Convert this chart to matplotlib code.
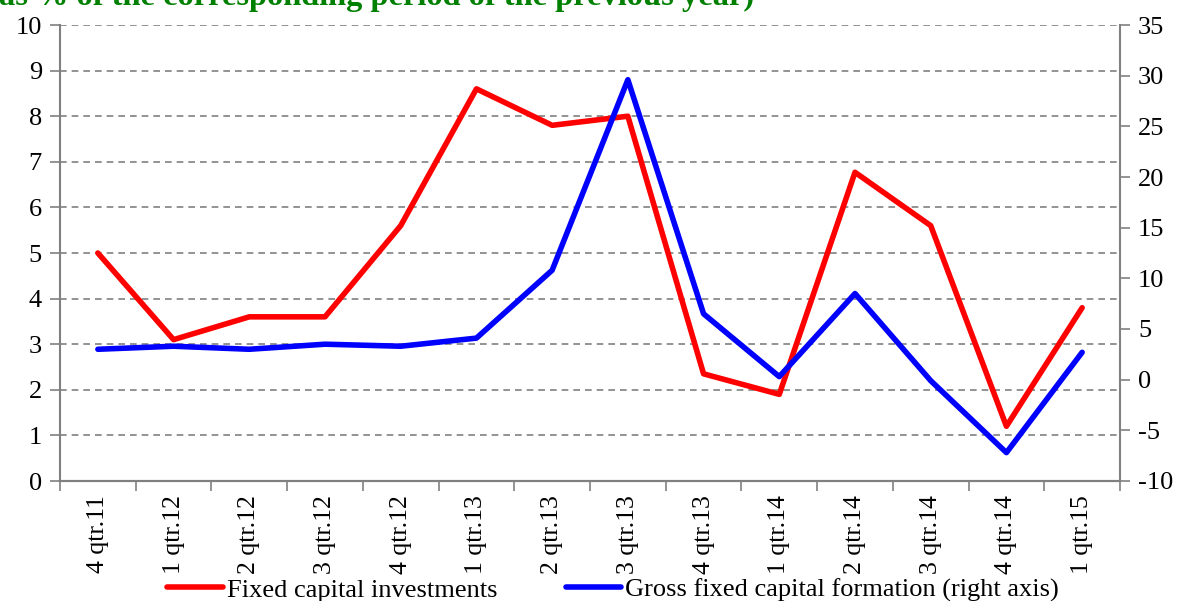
import matplotlib
matplotlib.use("Agg")
import matplotlib.pyplot as plt
from matplotlib.ticker import MultipleLocator

categories = ["4 qtr.11", "1 qtr.12", "2 qtr.12", "3 qtr.12", "4 qtr.12", "1 qtr.13",
              "2 qtr.13", "3 qtr.13", "4 qtr.13", "1 qtr.14", "2 qtr.14", "3 qtr.14",
              "4 qtr.14", "1 qtr.15"]
fixed_capital_investments = [5.0, 3.1, 3.6, 3.6, 5.6, 8.6, 7.8, 8.0, 2.35, 1.9, 6.77, 5.6, 1.2, 3.8]
gross_fixed_capital_formation = [3.0, 3.3, 3.0, 3.5, 3.3, 4.1, 10.8, 29.6, 6.5, 0.3, 8.5, -0.1, -7.2, 2.7]

title_text = "as % of the corresponding period of the previous year)"
label_red = "Fixed capital investments"
label_blue = "Gross fixed capital formation (right axis)"

plt.rcParams['font.family'] = ['Liberation Serif', 'DejaVu Serif']

W, H = 1180, 601
fig = plt.figure(figsize=(W / 100, H / 100), dpi=100)
left, right, top, bottom = 60, 1120, 25, 481
ax = fig.add_axes([left / W, 1 - bottom / H, (right - left) / W, (bottom - top) / H])
ax2 = ax.twinx()

grey = "#808080"
x = list(range(len(categories)))

ax.set_xlim(-0.5, len(categories) - 0.5)
ax.set_ylim(0, 10)
ax2.set_ylim(-10, 35)
ax.yaxis.set_major_locator(MultipleLocator(1))
ax2.yaxis.set_major_locator(MultipleLocator(5))

ax.grid(axis='y', color=grey, linestyle=(0, (4, 3)), linewidth=1.2)
ax.set_axisbelow(True)

l1, = ax.plot(x, fixed_capital_investments, color="#ff0000", linewidth=4, solid_capstyle='round',
              solid_joinstyle='round', label=label_red, zorder=3)
l2, = ax2.plot(x, gross_fixed_capital_formation, color="#0000ff", linewidth=4, solid_capstyle='round',
               solid_joinstyle='round', label=label_blue, zorder=3)

# x ticks at category boundaries, labels at centers
ax.set_xticks([i - 0.5 for i in range(len(categories) + 1)])
ax.set_xticklabels([])
ax.set_xticks(x, minor=True)
ax.set_xticklabels(categories, minor=True, rotation=90, fontsize=18.5)
ax.tick_params(axis='x', which='major', length=7, color=grey, width=1.2, direction='out')
ax.tick_params(axis='x', which='minor', length=0, pad=10)

ax.tick_params(axis='y', labelsize=19, length=7, color=grey, width=1.2, pad=6)
ax2.tick_params(axis='y', labelsize=19, length=7, color=grey, width=1.2, pad=6)
ax2.set_yticklabels([str(int(v)) for v in ax2.get_yticks()])

for a in (ax, ax2):
    a.spines['top'].set_visible(False)
    for s in ('left', 'right', 'bottom'):
        a.spines[s].set_color(grey)
        a.spines[s].set_linewidth(1.5)
ax2.spines['left'].set_visible(False)
ax.spines['right'].set_visible(False)

fig.text(-1 / W, 1 - 5 / H, title_text, color="#008000", fontsize=23.3, fontweight='bold',
         ha='left', va='baseline')

fig.legend([l1, l2], [label_red, label_blue], loc='center', bbox_to_anchor=(613 / W, 1 - 590 / H),
           ncol=2, frameon=False, fontsize=19, handlelength=2.1, handletextpad=0.15,
           columnspacing=2.6, borderpad=0, borderaxespad=0)

fig.savefig("out.png", dpi=100)
